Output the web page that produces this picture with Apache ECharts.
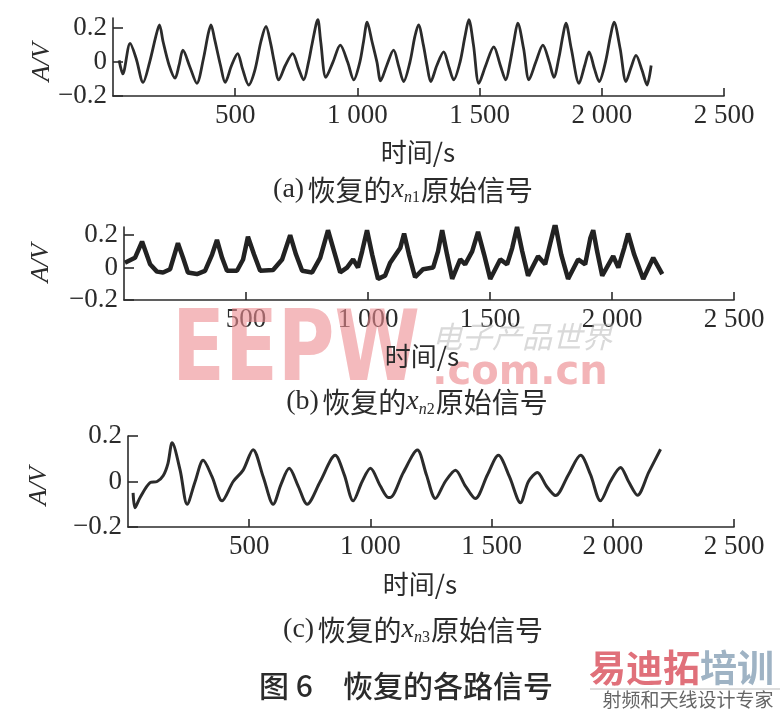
<!DOCTYPE html>
<html><head><meta charset="utf-8">
<script src="https://cdn.jsdelivr.net/npm/echarts@6/dist/echarts.min.js"></script>
<style>html,body{margin:0;padding:0;background:#fff}#c{width:781px;height:710px}</style>
</head><body><div id="c"></div>
<script>
// ---- data ----
const xTicks = [500, 1000, 1500, 2000, 2500];
const yTicks = [-0.2, 0, 0.2];

const timeA = [25,40,70,95,123,150,175,190,205,230,254,270,286,315,343,370,390,401,415,440,459,485,510,530,555,580,605,626,645,660,678,705,735,760,780,800,815,838,850,871,900,930,960,985,1010,1025,1040,1060,1080,1095,1120,1148,1170,1189,1215,1235,1250,1270,1285,1300,1325,1353,1375,1394,1420,1440,1456,1475,1497,1525,1558,1585,1607,1625,1640,1656,1680,1702,1730,1759,1785,1804,1825,1840,1853,1875,1907,1930,1948,1970,1989,2015,2035,2050,2075,2099,2120,2140,2165,2185,2202];
const ampA = [0.01,-0.07,0.11,0.02,-0.12,0.0,0.15,0.22,0.12,-0.02,-0.095,-0.02,0.07,-0.03,-0.125,0.02,0.17,0.22,0.14,-0.02,-0.12,-0.02,0.05,-0.04,-0.135,-0.05,0.12,0.21,0.11,0.0,-0.105,-0.02,0.05,-0.04,-0.105,0.0,0.11,0.25,0.12,-0.09,0.0,0.1,0.0,-0.105,0.0,0.12,0.235,0.12,0.0,-0.11,-0.02,0.07,-0.03,-0.115,0.0,0.15,0.22,0.1,-0.02,-0.115,-0.02,0.06,-0.03,-0.105,0.0,0.15,0.25,0.1,-0.125,-0.02,0.09,-0.02,-0.105,0.0,0.12,0.23,0.08,-0.105,0.0,0.1,0.0,-0.09,0.03,0.15,0.23,0.08,-0.125,-0.02,0.06,-0.04,-0.115,0.0,0.15,0.235,0.08,-0.115,-0.03,0.04,-0.05,-0.135,-0.02];

const timeB = [4,45,74,107,135,160,189,221,242,262,299,332,361,381,402,422,463,488,508,533,558,611,648,681,705,730,771,804,836,861,886,914,939,959,976,996,1017,1041,1070,1091,1132,1148,1168,1193,1226,1267,1287,1304,1324,1345,1378,1398,1427,1451,1476,1501,1542,1570,1591,1611,1632,1656,1697,1726,1747,1767,1792,1820,1861,1890,1911,1923,1939,1960,2005,2026,2050,2066,2091,2128,2169,2206];
const ampB = [0.03,0.06,0.16,0.02,-0.025,-0.03,-0.01,0.15,0.06,-0.03,-0.04,-0.02,0.08,0.17,0.06,-0.02,-0.02,0.05,0.19,0.08,-0.02,-0.015,0.05,0.2,0.08,-0.02,-0.03,0.06,0.23,0.1,-0.03,0.0,0.05,0.0,0.1,0.23,0.08,-0.07,-0.05,0.03,0.12,0.21,0.08,-0.06,-0.01,0.0,0.1,0.23,0.08,-0.07,0.05,0.02,0.1,0.22,0.08,-0.07,0.05,0.02,0.12,0.25,0.1,-0.05,0.07,0.02,0.15,0.27,0.08,-0.07,0.05,0.02,0.18,0.23,0.1,-0.05,0.07,0.0,0.12,0.21,0.08,-0.07,0.06,-0.04];

const timeC = [21,29,50,91,120,145,165,182,215,244,277,310,347,388,434,475,516,558,599,632,665,702,739,793,855,892,929,966,1000,1041,1074,1082,1136,1194,1231,1268,1309,1351,1392,1433,1483,1528,1574,1619,1652,1689,1726,1764,1817,1867,1908,1949,1990,2032,2065,2102,2148,2197];
const ampC = [-0.05,-0.115,-0.07,-0.005,0.0,0.025,0.08,0.17,0.05,-0.1,0.0,0.093,0.02,-0.085,0.0,0.05,0.14,0.02,-0.1,-0.01,0.058,-0.02,-0.1,0.0,0.115,0.03,-0.085,0.0,0.058,-0.02,-0.07,-0.07,0.04,0.138,0.03,-0.075,0.0,0.05,-0.02,-0.075,0.03,0.115,0.02,-0.093,0.0,0.04,-0.02,-0.062,0.03,0.115,0.03,-0.085,0.0,0.062,0.0,-0.06,0.04,0.142];

// ---- chart ----
const zip = (t, v) => t.map((x, i) => [x, v[i]]);
const SERIF = '"Liberation Serif","DejaVu Serif",serif';
const CJK = '"Noto Sans CJK SC","Noto Sans",sans-serif';
const INK = '#2b2b2b';

const xFmt = v => v >= 1000 ? String(v).replace(/(\d)(\d{3})$/, '$1 $2') : String(v);
const yFmt = v => Math.abs(v) < 1e-9 ? '0' : (v < 0 ? '\u22120.2' : '0.2');

function xAxis(gi) {
  return {
    type: 'value', gridIndex: gi, min: 0, max: 2500,
    axisLine: { show: true, onZero: false, lineStyle: { color: INK, width: 1.6 } },
    axisTick: { show: true, inside: true, length: 8, customValues: xTicks, lineStyle: { color: INK, width: 1.6 } },
    axisLabel: { customValues: xTicks, formatter: xFmt, color: INK, fontFamily: SERIF, fontSize: 27, margin: 6 },
    splitLine: { show: false }
  };
}
function yAxis(gi, max) {
  return {
    type: 'value', gridIndex: gi, min: -0.2, max: max,
    axisLine: { show: true, onZero: false, lineStyle: { color: INK, width: 1.6 } },
    axisTick: { show: true, inside: true, length: 10, customValues: yTicks, lineStyle: { color: INK, width: 1.6 } },
    axisLabel: { customValues: yTicks, formatter: yFmt, color: INK, fontFamily: SERIF, fontSize: 27, margin: 6 },
    splitLine: { show: false }
  };
}

const txt = (x, y, text, font, extra) => ({
  type: 'text', x: x, y: y, z: 10,
  style: Object.assign({ text: text, font: font, fill: INK, align: 'center', verticalAlign: 'middle' }, extra || {})
});
const avLabel = (x, y) => ({
  type: 'text', x: x, y: y, rotation: Math.PI / 2, z: 10,
  style: { text: 'A/V', font: 'italic 26px ' + SERIF, fill: INK, align: 'center', verticalAlign: 'middle' }
});
const caption = (x, y, letter, idx) => ({
  type: 'text', x: x, y: y, z: 10,
  style: {
    text: '{p|(' + letter + ')} {c|恢复的}{x|x}{s|n}{d|' + idx + '}{c|原始信号}',
    align: 'center', verticalAlign: 'middle', fill: INK,
    rich: {
      p: { font: '28px ' + SERIF, fill: INK },
      c: { font: '28px ' + CJK, fill: INK },
      x: { font: 'italic 28px ' + SERIF, fill: INK },
      s: { font: 'italic 16px ' + SERIF, fill: INK, padding: [15, 0, 0, 0] },
      d: { font: '16px ' + SERIF, fill: INK, padding: [15, 1, 0, 0] }
    }
  }
});

const option = {
  backgroundColor: '#fff',
  animation: false,
  grid: [
    { left: 113, top: 18, width: 611, height: 78 },
    { left: 124, top: 227, width: 610, height: 73 },
    { left: 128, top: 436, width: 606, height: 91 }
  ],
  xAxis: [xAxis(0), xAxis(1), xAxis(2)],
  yAxis: [yAxis(0, 0.26), yAxis(1, 0.25), yAxis(2, 0.2)],
  series: [
    { type: 'line', xAxisIndex: 0, yAxisIndex: 0, data: zip(timeA, ampA), showSymbol: false, smooth: 0.3, lineStyle: { color: INK, width: 2.8 } },
    { type: 'line', xAxisIndex: 1, yAxisIndex: 1, data: zip(timeB, ampB), showSymbol: false, smooth: false, lineStyle: { color: '#222', width: 4.5 } },
    { type: 'line', xAxisIndex: 2, yAxisIndex: 2, data: zip(timeC, ampC), showSymbol: false, smooth: 0.3, lineStyle: { color: INK, width: 3 } }
  ],
  graphic: [
    // watermarks (behind text)
    { type: 'text', x: 172, y: 355, z: 1, scaleX: 0.79, style: { text: 'EEPW', font: 'bold 98px "DejaVu Sans",sans-serif', fill: 'rgba(236,140,145,0.6)', align: 'left', verticalAlign: 'middle' } },
    { type: 'text', x: 520, y: 374, z: 1, style: { text: '.com.cn', font: 'bold 40px "DejaVu Sans",sans-serif', fill: 'rgba(236,140,145,0.65)', align: 'center', verticalAlign: 'middle' } },
    { type: 'text', x: 522, y: 337, z: 1, style: { text: '电子产品世界', font: 'italic 30px "Noto Sans CJK SC",sans-serif', fill: 'rgba(170,170,170,0.45)', align: 'center', verticalAlign: 'middle' } },
    { type: 'text', x: 589, y: 668, z: 1, style: { text: '{r|易迪拓}{b|培训}', align: 'left', verticalAlign: 'middle', rich: { r: { font: 'bold 37px "Noto Sans CJK SC",sans-serif', fill: '#e0707a' }, b: { font: 'bold 37px "Noto Sans CJK SC",sans-serif', fill: '#9fb3c4' } } } },
    { type: 'line', z: 1, shape: { x1: 590, y1: 689, x2: 780, y2: 689 }, style: { stroke: '#bbb', lineWidth: 1 } },
    { type: 'text', x: 688, y: 700, z: 1, style: { text: '射频和天线设计专家', font: '19px "Noto Sans CJK SC",sans-serif', fill: '#666', align: 'center', verticalAlign: 'middle' } },
    // axis names
    avLabel(42, 62), avLabel(41, 263), avLabel(39, 486),
    txt(418, 152, '时间/s', '26px ' + CJK),
    txt(422, 356, '时间/s', '26px ' + CJK),
    txt(420, 584, '时间/s', '26px ' + CJK),
    // captions
    caption(403, 190, 'a', '1'),
    caption(417, 402, 'b', '2'),
    caption(413, 630, 'c', '3'),
    txt(406, 686, '图 6\u3000恢复的各路信号', '500 30px ' + CJK)
  ]
};
const chart = echarts.init(document.getElementById('c'), null, { renderer: 'canvas' });
chart.setOption(option);
</script></body></html>
